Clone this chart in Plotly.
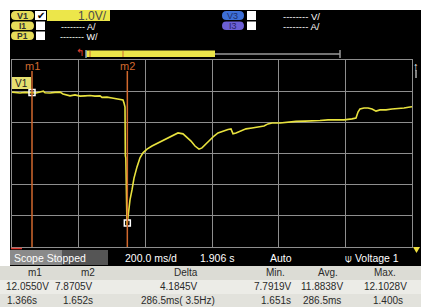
import plotly.graph_objects as go

# ---------------- data ----------------
time_s = [1.306, 1.318, 1.330, 1.345, 1.363, 1.378, 1.390, 1.400, 1.405, 1.420, 1.435, 1.450,
          1.459, 1.468, 1.480, 1.495, 1.510, 1.525, 1.540, 1.555, 1.570, 1.576, 1.591, 1.606,
          1.621, 1.630, 1.639, 1.642, 1.645, 1.646, 1.6475, 1.651, 1.652, 1.654, 1.660, 1.666,
          1.672, 1.681, 1.690, 1.699, 1.711, 1.726, 1.744, 1.765, 1.786, 1.804, 1.819, 1.831,
          1.843, 1.855, 1.867, 1.876, 1.888, 1.900, 1.912, 1.924, 1.939, 1.954, 1.963, 1.969,
          1.978, 1.990, 2.008, 2.026, 2.044, 2.062, 2.074, 2.086, 2.110, 2.134, 2.158, 2.185,
          2.209, 2.230, 2.254, 2.278, 2.302, 2.326, 2.338, 2.344, 2.350, 2.362, 2.374, 2.386,
          2.398, 2.410, 2.428, 2.446, 2.464, 2.482, 2.500, 2.506]
voltage_v = [12.07, 12.05, 12.04, 12.06, 12.05, 12.04, 12.07, 12.10, 12.05, 12.04, 12.06, 12.07,
             12.01, 11.98, 11.95, 11.98, 11.94, 11.95, 11.96, 11.94, 11.95, 11.90, 11.91, 11.88,
             11.86, 11.85, 11.82, 11.72, 11.59, 10.02, 9.96, 7.79, 7.87, 8.19, 8.61, 8.93,
             9.31, 9.67, 9.96, 10.12, 10.24, 10.34, 10.44, 10.57, 10.66, 10.76, 10.73, 10.63,
             10.50, 10.34, 10.24, 10.28, 10.41, 10.53, 10.66, 10.76, 10.82, 10.87, 10.89, 10.73,
             10.76, 10.82, 10.89, 10.92, 10.95, 10.98, 11.05, 11.08, 11.08, 11.11, 11.13, 11.14,
             11.14, 11.16, 11.18, 11.18, 11.18, 11.21, 11.24, 11.43, 11.53, 11.56, 11.56, 11.53,
             11.46, 11.50, 11.50, 11.53, 11.54, 11.56, 11.59, 11.60]

marker_names = ["m1", "m2"]
marker_time = [1.366, 1.652]
marker_volt = [12.0550, 7.8705]

x_range = [1.306, 2.506]   # 200 ms/div, 6 div, centre 1.906 s
y_range = [7.1, 13.1]      # 1.0 V/div

table_header = ["m1", "m2", "Delta", "Min.", "Avg.", "Max."]
table_values = ["12.0550V", "7.8705V", "4.1845V", "7.7919V", "11.8838V", "12.1028V"]
table_times = ["1.366s", "1.652s", "286.5ms( 3.5Hz)", "1.651s", "286.5ms", "1.400s"]

# ---------------- helpers ----------------
W, H = 421, 307
def px(x): return x / W
def py(y): return 1 - y / H

shapes = []
annotations = []

def rect(x0, y0, x1, y1, color, layer="below"):
    shapes.append(dict(type="rect", xref="paper", yref="paper",
                       x0=px(x0), x1=px(x1), y0=py(y1), y1=py(y0),
                       fillcolor=color, line=dict(width=0), layer=layer))

def poly(points, color):
    d = "M " + " L ".join(f"{px(x):.5f},{py(y):.5f}" for x, y in points) + " Z"
    shapes.append(dict(type="path", xref="paper", yref="paper", path=d,
                       fillcolor=color, line=dict(width=0), layer="above"))

def pill(x0, y0, x1, y1, color):
    r = (y1 - y0) / 2
    pts = [("M", x0 + r, y0), ("L", x1 - r, y0), ("Q", x1, y0, x1, y0 + r),
           ("Q", x1, y1, x1 - r, y1), ("L", x0 + r, y1), ("Q", x0, y1, x0, y1 - r),
           ("Q", x0, y0, x0 + r, y0)]
    d = ""
    for p in pts:
        coords = p[1:]
        s = " ".join(f"{px(coords[i]):.5f},{py(coords[i+1]):.5f}" for i in range(0, len(coords), 2))
        d += f"{p[0]} {s} "
    d += "Z"
    shapes.append(dict(type="path", xref="paper", yref="paper", path=d,
                       fillcolor=color, line=dict(width=0), layer="above"))

def line(x0, y0, x1, y1, color, width=1):
    shapes.append(dict(type="line", xref="paper", yref="paper",
                       x0=px(x0), x1=px(x1), y0=py(y0), y1=py(y1),
                       line=dict(color=color, width=width), layer="above"))

def text(x, y, s, color="white", size=10, anchor="center", family="Liberation Sans"):
    annotations.append(dict(x=px(x), y=py(y), xref="paper", yref="paper", text=s,
                            showarrow=False, xanchor=anchor, yanchor="middle",
                            font=dict(color=color, size=size, family=family)))

# backgrounds
rect(10, 10, 421, 266, "black")
rect(0, 266, 421, 307, "#ececE7")
rect(0, 266, 421, 280, "#dcdcd5")
rect(0, 294, 421, 307, "#e2e2dc")

# ---- header channel controls ----
YEL = "#ece64a"
pill(11, 11, 34, 20, "#e6dc5a"); text(22.5, 15.8, "<b>V1</b>", "#333", 9)
rect(35, 11, 46, 20, "white", layer="above"); text(40.5, 15.5, "✔", "black", 10)
rect(47, 10, 110, 21, YEL, layer="above"); text(109, 15.5, "1.0V/", "#4a4a4a", 12, "right")
pill(11, 21.5, 34, 30, "#e6dc5a"); text(22.5, 26, "<b>I1</b>", "#333", 8.5)
rect(36, 21.5, 45, 30, "white", layer="above"); text(98, 26.5, "-------- A/", "white", 9, "right")
pill(11, 31.5, 34, 40, "#e6dc5a"); text(22.5, 36, "<b>P1</b>", "#333", 8.5)
rect(36, 31.5, 45, 40, "white", layer="above"); text(100, 36.5, "-------- W/", "white", 9, "right")

pill(222, 11, 244, 20, "#3d6fd6"); text(233, 15.8, "V3", "#1e2e6a", 9)
rect(247, 11, 256, 20, "white", layer="above"); text(322, 16, "-------- V/", "white", 9.5, "right")
pill(222, 21.5, 244, 30, "#6c5fd4"); text(233, 26, "I3", "#2a2466", 9)
rect(247, 21.5, 256, 30, "white", layer="above"); text(322, 26.5, "-------- A/", "white", 9.5, "right")

# overview bar
line(215, 54, 340, 54, "#9a9a9a", 1.5)
line(340, 50, 340, 58, "#9a9a9a", 1.5)
rect(86, 50.5, 215, 57, YEL, layer="above")
line(86, 50, 86, 58, "#7fa0c0", 1.5)
line(90, 51, 90, 57, "#d06a30", 1)
line(123, 51, 123, 57, "#d06a30", 1)
text(80, 53, "↰", "#e04030", 10)

# right-side markers
text(421, 66, "↑", "white", 11, "right")
line(416, 70, 416, 78, "white", 1)
poly([(413, 247), (420, 247), (416.5, 253)], "#f0e040")
line(11, 248.5, 22, 248.5, "#e03a30", 1.5)

# status bar
rect(10, 250, 108, 265, "#555555", layer="above")
rect(10, 250, 62, 265, "#8a8a8a", layer="above")
text(12, 257.5, "Scope Stopped", "white", 10.5, "left")
text(151, 257.5, "200.0 ms/d", "white", 10.5)
text(217, 257.5, "1.906 s", "white", 10.5)
text(281, 257.5, "Auto", "white", 10.5)
text(372, 257.5, "⍦ Voltage 1", "white", 10.5)

# table
col_x = [35, 88, 186, 275, 328, 385]
val_x = [27, 74, 179, 273, 322, 385]
tim_x = [22, 78, 178, 276, 322, 388]
for i in range(6):
    text(col_x[i], 272.5, table_header[i], "#2a2a2a", 10)
    text(val_x[i], 286.5, table_values[i], "#2a2a2a", 10)
    text(tim_x[i], 300, table_times[i], "#2a2a2a", 10)

# ---- figure ----
fig = go.Figure()
fig.add_trace(go.Scatter(x=time_s, y=voltage_v, mode="lines",
                         line=dict(color="#e8e23e", width=1.6), hoverinfo="skip"))
fig.add_trace(go.Scatter(x=marker_time, y=marker_volt, mode="markers",
                         marker=dict(symbol="square-open", size=6, color="white",
                                     line=dict(width=1.5, color="white")), hoverinfo="skip"))

for name, t in zip(marker_names, marker_time):
    shapes.append(dict(type="line", xref="x", yref="paper", x0=t, x1=t,
                       y0=py(247), y1=py(71), line=dict(color="#d2692e", width=1.5),
                       layer="above"))
    annotations.append(dict(x=t, y=py(65.5), xref="x", yref="paper", text=name,
                            showarrow=False, xanchor="center", yanchor="middle",
                            font=dict(color="#d2692e", size=11, family="Liberation Sans")))

# V1 channel tag
rect(12, 77, 31, 89, "#e6e070", layer="above")
text(21.5, 83, "V1", "#222", 10)

fig.update_layout(
    width=W, height=H, margin=dict(l=0, r=0, t=0, b=0),
    paper_bgcolor="white", plot_bgcolor="black", showlegend=False,
    shapes=shapes, annotations=annotations,
    xaxis=dict(domain=[px(12), px(412)], range=x_range, tick0=1.306, dtick=0.2,
               showgrid=True, gridcolor="#8e8e8e", gridwidth=1, zeroline=False,
               showticklabels=False, ticks="", showline=True, mirror=True,
               linecolor="#8e8e8e", linewidth=1),
    yaxis=dict(domain=[py(247), py(60)], range=y_range, tick0=7.1, dtick=1,
               showgrid=True, gridcolor="#8e8e8e", gridwidth=1, zeroline=False,
               showticklabels=False, ticks="", showline=True, mirror=True,
               linecolor="#8e8e8e", linewidth=1),
)
fig.write_html("out.html", config={"displayModeBar": False},
               post_script="document.body.style.margin='0';document.body.style.overflow='hidden';")
